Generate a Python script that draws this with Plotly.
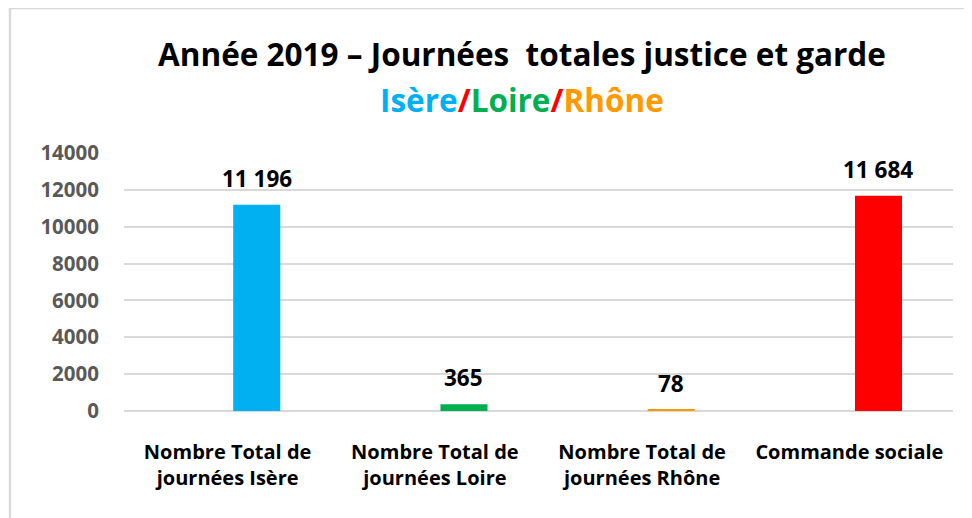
import plotly.graph_objects as go

categories = ["Nombre Total de<br>journées Isère", "Nombre Total de<br>journées Loire",
              "Nombre Total de<br>journées Rhône", "Commande sociale"]
values = [11196, 365, 78, 11684]
bar_colors = ["#00b0f0", "#00b050", "#ff9900", "#ff0000"]
y_ticks = [0, 2000, 4000, 6000, 8000, 10000, 12000, 14000]

FONT = "Open Sans"
BAR_W = 0.227
BAR_OFF = 0.027  # bars sit right of the category centre (clustered-bar look)

fig = go.Figure()
fig.add_trace(go.Bar(x=categories, y=values, width=BAR_W, offset=BAR_OFF,
                     marker=dict(color=bar_colors, line=dict(width=0)), hoverinfo="skip"))

for i, v in enumerate(values):
    fig.add_annotation(x=i + BAR_OFF + BAR_W / 2, y=v, xref="x", yref="y", yanchor="bottom", yshift=9,
                       text=f"<b>{v:,}</b>".replace(",", " "), showarrow=False,
                       font=dict(family=FONT, size=22.5, color="#000000"))

fig.add_annotation(xref="paper", yref="paper", x=0.48, y=1.0, yshift=100, yanchor="middle",
                   text="<b>Année 2019 – Journées  totales justice et garde</b>", showarrow=False,
                   font=dict(family=FONT, size=31.5, color="#000000"))
fig.add_annotation(xref="paper", yref="paper", x=0.48, y=1.0, yshift=54, yanchor="middle",
                   text=("<b><span style='color:#00b0f0'>Isère</span><span style='color:#ff0000'>/</span>"
                         "<span style='color:#00b050'>Loire</span><span style='color:#ff0000'>/</span>"
                         "<span style='color:#ff9900'>Rhône</span></b>"),
                   showarrow=False, font=dict(family=FONT, size=31.5))

W, H = 964, 510
L, R, T, B = 116, 19, 145, 107
pw, ph = W - L - R, H - T - B
fx = (2 - L) / pw
fy_top = (H - 0 - B) / ph
fy_bot = (H - 510 - B) / ph

# chart frame (top and left edges)
fig.add_shape(type="line", xref="paper", yref="paper", x0=fx, x1=(W - L) / pw, y0=fy_top, y1=fy_top,
              line=dict(color="#d9d9d9", width=2.5))
fig.add_shape(type="line", xref="paper", yref="paper", x0=fx, x1=fx, y0=fy_top, y1=fy_bot,
              line=dict(color="#d9d9d9", width=2.5))

fig.update_layout(
    width=W, height=H,
    margin=dict(l=L, r=R, t=T, b=B),
    paper_bgcolor="white", plot_bgcolor="white",
    showlegend=False,
    font=dict(family=FONT),
    xaxis=dict(tickfont=dict(family=FONT, size=20, color="#000000", weight="bold"),
               range=[-0.5, 3.5],
               showgrid=False, showline=False, ticks="", ticklabelstandoff=27),
    yaxis=dict(range=[0, 14000], tickvals=y_ticks, ticktext=[str(t) for t in y_ticks],
               tickfont=dict(family=FONT, size=20.5, color="#595959", weight="bold"),
               showgrid=True, gridcolor="#d9d9d9", gridwidth=1.5,
               zeroline=True, zerolinecolor="#d9d9d9", zerolinewidth=1.5,
               showline=False, ticks="", ticklabelstandoff=24),
)

fig.write_html("out.html")
